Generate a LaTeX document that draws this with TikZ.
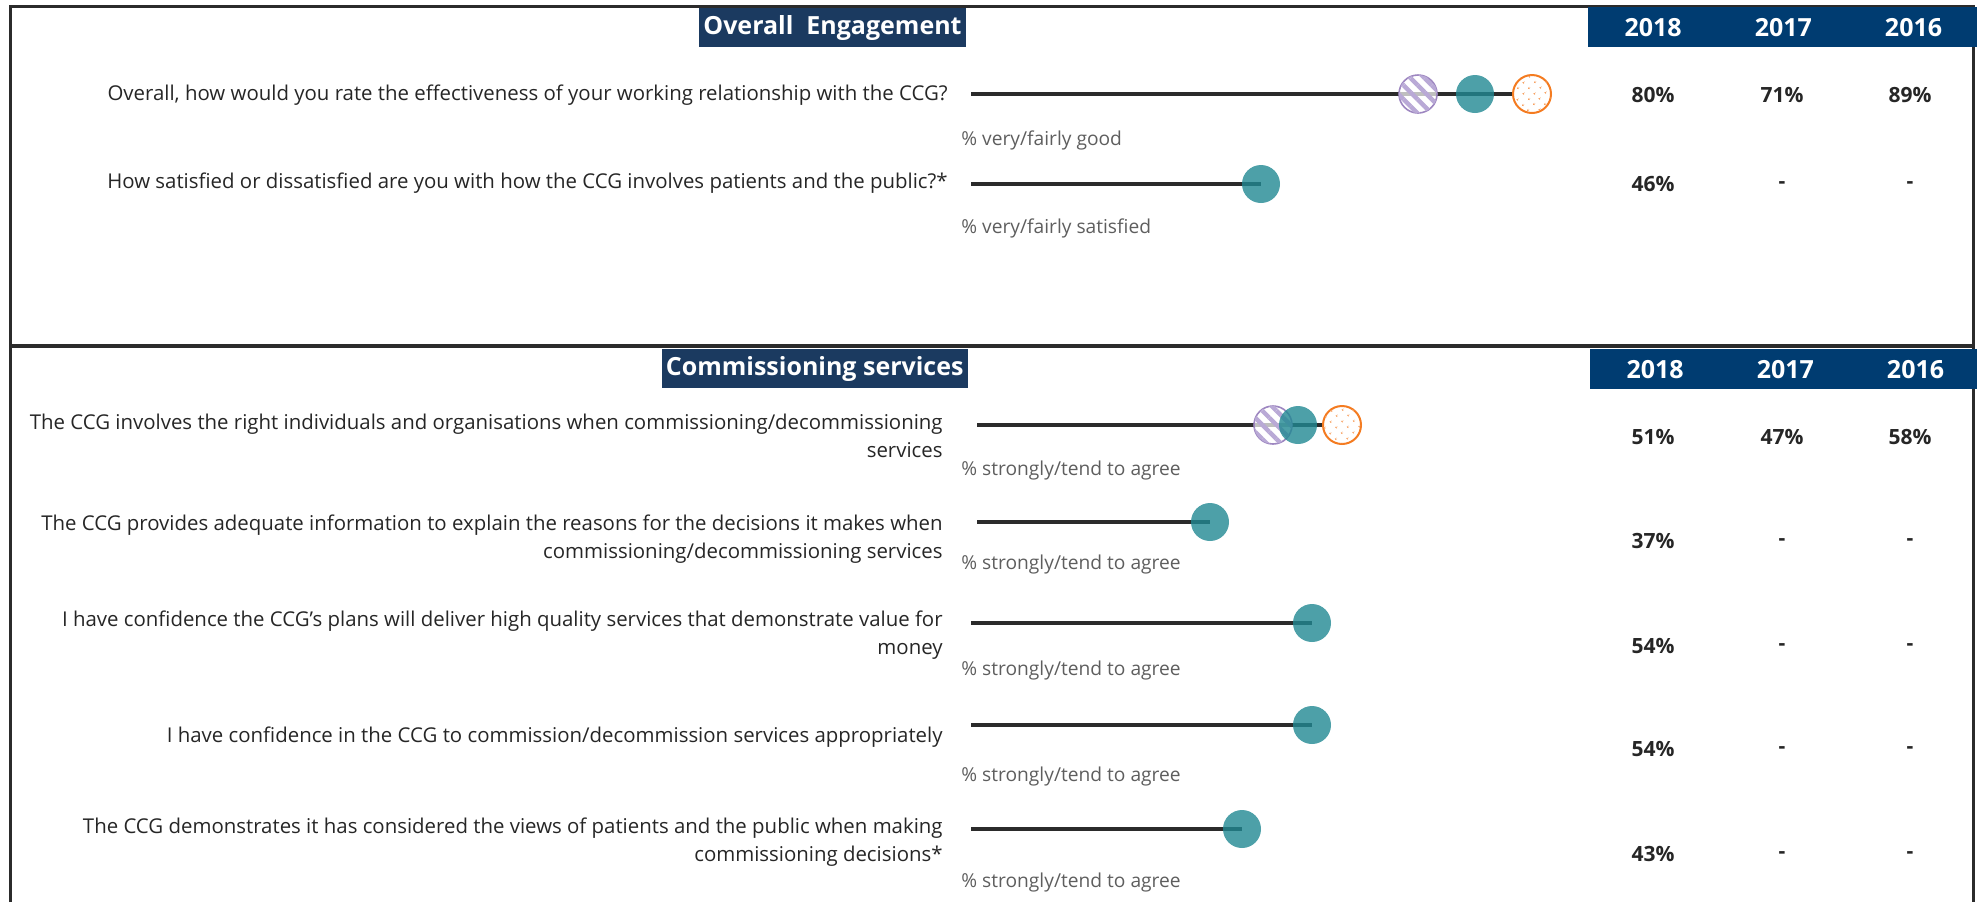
\documentclass[tikz,border=0pt]{standalone}
\usepackage{fontspec}
\setmainfont{Open Sans}
\usetikzlibrary{positioning,backgrounds,patterns.meta}

\definecolor{navy}{HTML}{003C71}
\definecolor{titlenavy}{HTML}{1B3A60}
\definecolor{dotteal}{HTML}{208892}
\definecolor{purp}{HTML}{9D86C0}
\definecolor{lav}{HTML}{B9A9D6}
\definecolor{dotorange}{HTML}{F47B20}
\definecolor{dotpeach}{HTML}{F7A060}
\definecolor{barline}{HTML}{2B2B2B}
\definecolor{qtext}{HTML}{262626}
\definecolor{subgray}{HTML}{5E5E5E}

\tikzset{
  question/.style={anchor=east, align=right, text=qtext, inner sep=0pt,
    font=\fontsize{10.2}{14}\selectfont},
  sublabel/.style={anchor=west, text=subgray, inner sep=0pt,
    font=\fontsize{9.6}{12}\selectfont},
  value/.style={text=qtext, inner sep=0pt, font=\fontsize{10.5}{12}\selectfont\bfseries},
  sectionhead/.style={anchor=north east, fill=titlenavy, text=white, inner xsep=2pt,
    minimum height=17.5pt, font=\fontsize{12.5}{14}\selectfont\bfseries},
  yearhead/.style={fill=navy, draw=navy, line width=0.6pt, text=white, inner sep=0pt, minimum width=64.5pt,
    minimum height=19.5pt, font=\fontsize{12.5}{14}\selectfont\bfseries},
  frame/.style={draw=barline, line width=1.5pt},
  bar/.style={draw=barline, line width=2pt},
  dot2018/.style={circle, minimum size=19pt, inner sep=0pt, fill=dotteal, fill opacity=0.8},
  dot2017/.style={circle, minimum size=19pt, inner sep=0pt, draw=purp, line width=0.8pt,
    fill=white, fill opacity=0.7,
    postaction={pattern={Lines[angle=-45,distance=5pt,line width=2.2pt]}, pattern color=lav, fill opacity=0.9}},
  dot2016/.style={circle, minimum size=19pt, inner sep=0pt, draw=dotorange, line width=1pt,
    fill=white, postaction={pattern={Dots[distance=4pt,radius=0.55pt,angle=45]}, pattern color=dotpeach}}
}

\begin{document}
\begin{tikzpicture}[x=0.5pt, y=-0.5pt]
\useasboundingbox (0,0) rectangle (1977,902);

% Frame
\draw[frame] (10,902) -- (10,6) -- (1973,6) -- (1973,902);
\draw[draw=barline, line width=2.2pt] (10,346) -- (1973,346);

% Overall Engagement
\node[sectionhead] (engage) at (966,8) {Overall\ \ Engagement};
\node[yearhead, anchor=north west] (yr18a) at (1588,7) {2018};
\node[yearhead, right=0pt of yr18a] (yr17a) {2017};
\node[yearhead, right=0pt of yr17a] (yr16a) {2016};

\node[question] (qa1) at (948,95) {Overall, how would you rate the effectiveness of your working relationship with the CCG?};
\coordinate (ba1) at (971,94);
\node[dot2017] (pa1) at (1418,94) {};
\node[dot2018] (ta1) at (1475,94) {};
\node[dot2016] (oa1) at (1532,94) {};
\node[sublabel] (la1) at (961,140) {\% very/fairly good};

\node[question] (qa2) at (948,183) {How satisfied or dissatisfied are you with how the CCG involves patients and the public?*};
\coordinate (ba2) at (971,184);
\node[dot2018] (ta2) at (1261,184) {};
\node[sublabel] (la2) at (961,228) {\% very/fairly satisfied};

\node[value] (va18) at (1653,95) {80\%};
\node[value] (va17) at (1782,95) {71\%};
\node[value] (va16) at (1910,95) {89\%};
\node[value] (vb18) at (1653,184) {46\%};
\node[value] (vb17) at (1782,185) {-};
\node[value] (vb16) at (1910,185) {-};

% Commissioning services
\node[sectionhead] (commis) at (968,349) {Commissioning services};
\node[yearhead, anchor=north west] (yr18b) at (1590,349) {2018};
\node[yearhead, right=0pt of yr18b] (yr17b) {2017};
\node[yearhead, right=0pt of yr17b] (yr16b) {2016};

\node[question] (qc1) at (943,436) {The CCG involves the right individuals and organisations when commissioning/decommissioning\\services};
\coordinate (bc1) at (977,425);
\node[dot2017] (pc1) at (1273,425) {};
\node[dot2018] (tc1) at (1298,425) {};
\node[dot2016] (oc1) at (1342,425) {};
\node[sublabel] (lc1) at (961,470) {\% strongly/tend to agree};

\node[question] (qc2) at (943,539) {The CCG provides adequate information to explain the reasons for the decisions it makes when\\commissioning/decommissioning services};
\coordinate (bc2) at (977,522);
\node[dot2018] (tc2) at (1210,522) {};
\node[sublabel] (lc2) at (961,564) {\% strongly/tend to agree};

\node[question] (qc3) at (943,635) {I have confidence the CCG’s plans will deliver high quality services that demonstrate value for\\money};
\coordinate (bc3) at (971,623);
\node[dot2018] (tc3) at (1312,623) {};
\node[sublabel] (lc3) at (961,670) {\% strongly/tend to agree};

\node[question] (qc4) at (943,737) {I have confidence in the CCG to commission/decommission services appropriately};
\coordinate (bc4) at (971,725);
\node[dot2018] (tc4) at (1312,725) {};
\node[sublabel] (lc4) at (961,776) {\% strongly/tend to agree};

\node[question] (qc5) at (943,842) {The CCG demonstrates it has considered the views of patients and the public when making\\commissioning decisions*};
\coordinate (bc5) at (971,829);
\node[dot2018] (tc5) at (1242,829) {};
\node[sublabel] (lc5) at (961,882) {\% strongly/tend to agree};

\node[value] (vc18) at (1653,437) {51\%};
\node[value] (vc17) at (1782,437) {47\%};
\node[value] (vc16) at (1910,437) {58\%};
\node[value] (vd18) at (1653,541) {37\%};
\node[value] (vd17) at (1782,542) {-};
\node[value] (vd16) at (1910,542) {-};
\node[value] (ve18) at (1653,646) {54\%};
\node[value] (ve17) at (1782,647) {-};
\node[value] (ve16) at (1910,647) {-};
\node[value] (vf18) at (1653,749) {54\%};
\node[value] (vf17) at (1782,750) {-};
\node[value] (vf16) at (1910,750) {-};
\node[value] (vg18) at (1653,854) {43\%};
\node[value] (vg17) at (1782,855) {-};
\node[value] (vg16) at (1910,855) {-};

% Bars
\begin{scope}[on background layer]
\draw[bar] (ba1) -- (oa1.center);
\draw[bar] (ba2) -- (ta2.center);
\draw[bar] (bc1) -- (oc1.center);
\draw[bar] (bc2) -- (tc2.center);
\draw[bar] (bc3) -- (tc3.center);
\draw[bar] (bc4) -- (tc4.center);
\draw[bar] (bc5) -- (tc5.center);
\end{scope}
\end{tikzpicture}
\end{document}
